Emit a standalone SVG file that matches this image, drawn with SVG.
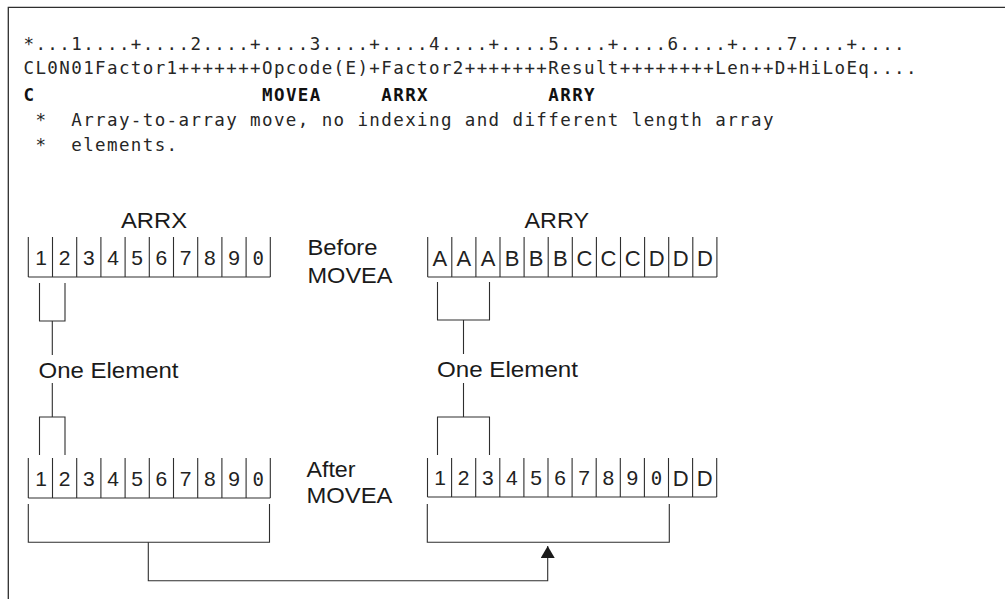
<svg xmlns="http://www.w3.org/2000/svg" width="1005" height="599" viewBox="0 0 1005 599">
<style>
  .code{font-family:"DejaVu Sans Mono","Liberation Mono",monospace;font-size:17.5px;letter-spacing:1.39px;fill:#262626}
  .b{font-weight:bold;fill:#111}
  .lbl{font-family:"Liberation Sans",Arial,sans-serif;font-size:22px;fill:#1a1a1a}
  .dig{font-family:"Liberation Sans",Arial,sans-serif;font-size:21px;fill:#222;text-anchor:middle}
  .zero{font-family:"DejaVu Sans Mono","Liberation Mono",monospace;font-size:19px}
  .let{font-family:"Liberation Sans",Arial,sans-serif;font-size:22px;fill:#222;text-anchor:middle}
  .ln{fill:none;stroke:#2e2e2e;stroke-width:1.1}
  .frame{fill:none;stroke:#2e2e2e;stroke-width:1.3}
</style>
<defs>
  <marker id="ah" markerUnits="userSpaceOnUse" viewBox="0 0 12 14" markerWidth="12" markerHeight="14" refX="12" refY="7" orient="auto">
    <path d="M0,0 L12,7 L0,14 Z" fill="#1a1a1a"/>
  </marker>
</defs>
<rect width="1005" height="599" fill="#ffffff"/>
<path class="frame" d="M8.3,599 V7.3 H1005"/>

<g id="code">
  <text class="code" x="23.5" y="49.5">*...1....+....2....+....3....+....4....+....5....+....6....+....7....+....</text>
  <text class="code" x="23.5" y="74">CL0N01Factor1+++++++Opcode(E)+Factor2+++++++Result++++++++Len++D+HiLoEq....</text>
  <text class="code" x="23.5" y="100.5" xml:space="preserve"><tspan class="b">C</tspan>                   <tspan class="b">MOVEA</tspan>     <tspan class="b">ARRX</tspan>          <tspan class="b">ARRY</tspan></text>
  <text class="code" x="23.5" y="125.5" xml:space="preserve"> *  Array-to-array move, no indexing and different length array</text>
  <text class="code" x="23.5" y="150.5" xml:space="preserve"> *  elements.</text>
</g>

<g id="labels">
  <text class="lbl" x="121" y="228" textLength="66" lengthAdjust="spacingAndGlyphs">ARRX</text>
  <text class="lbl" x="524.5" y="228" textLength="64.5" lengthAdjust="spacingAndGlyphs">ARRY</text>
  <text class="lbl" x="307.5" y="255" textLength="70" lengthAdjust="spacingAndGlyphs">Before</text>
  <text class="lbl" x="307.5" y="283" textLength="85" lengthAdjust="spacingAndGlyphs">MOVEA</text>
  <text class="lbl" x="306.5" y="477" textLength="49" lengthAdjust="spacingAndGlyphs">After</text>
  <text class="lbl" x="306.5" y="503" textLength="86" lengthAdjust="spacingAndGlyphs">MOVEA</text>
</g>

<g id="arrx-before">
  <path class="ln" d="M28.3,237 V277 M52.5,237 V277 M76.7,237 V277 M100.9,237 V277 M125.1,237 V277 M149.3,237 V277 M173.5,237 V277 M197.7,237 V277 M221.9,237 V277 M246.1,237 V277 M270.3,237 V277 M28.3,277 H270.3"/>
  <text class="dig" y="265"><tspan x="41">1</tspan><tspan x="64.6">2</tspan><tspan x="88.8">3</tspan><tspan x="113">4</tspan><tspan x="137.2">5</tspan><tspan x="161.4">6</tspan><tspan x="185.6">7</tspan><tspan x="209.8">8</tspan><tspan x="234">9</tspan><tspan class="zero" x="258.2">0</tspan></text>
</g>

<g id="arry-before">
  <path class="ln" d="M427.7,237 V277 M451.8,237 V277 M475.9,237 V277 M500,237 V277 M524.1,237 V277 M548.2,237 V277 M572.3,237 V277 M596.4,237 V277 M620.5,237 V277 M644.6,237 V277 M668.7,237 V277 M692.8,237 V277 M716.9,237 V277 M427.7,277 H716.9"/>
  <text class="let" y="265.5"><tspan x="439.8">A</tspan><tspan x="463.9">A</tspan><tspan x="488">A</tspan><tspan x="512.1">B</tspan><tspan x="536.2">B</tspan><tspan x="560.3">B</tspan><tspan x="584.4">C</tspan><tspan x="608.5">C</tspan><tspan x="632.6">C</tspan><tspan x="656.7">D</tspan><tspan x="680.8">D</tspan><tspan x="704.9">D</tspan></text>
</g>

<g id="one-element-x">
  <text class="lbl" x="38.5" y="378" textLength="140" lengthAdjust="spacingAndGlyphs">One Element</text>
</g>

<g id="one-element-y">
  <text class="lbl" x="437" y="377" textLength="141" lengthAdjust="spacingAndGlyphs">One Element</text>
</g>

<g id="arrx-after">
  <path class="ln" d="M28.3,458 V498 M52.5,458 V498 M76.7,458 V498 M100.9,458 V498 M125.1,458 V498 M149.3,458 V498 M173.5,458 V498 M197.7,458 V498 M221.9,458 V498 M246.1,458 V498 M270.3,458 V498 M28.3,498 H270.3"/>
  <text class="dig" y="485.5"><tspan x="41">1</tspan><tspan x="64.6">2</tspan><tspan x="88.8">3</tspan><tspan x="113">4</tspan><tspan x="137.2">5</tspan><tspan x="161.4">6</tspan><tspan x="185.6">7</tspan><tspan x="209.8">8</tspan><tspan x="234">9</tspan><tspan class="zero" x="258.2">0</tspan></text>
</g>

<g id="arry-after">
  <path class="ln" d="M427.5,458 V497 M451.6,458 V497 M475.7,458 V497 M499.8,458 V497 M523.9,458 V497 M548,458 V497 M572.1,458 V497 M596.2,458 V497 M620.3,458 V497 M644.4,458 V497 M668.5,458 V497 M692.6,458 V497 M716.7,458 V497 M427.5,497 H716.7"/>
  <text class="dig" y="485"><tspan x="440.2">1</tspan><tspan x="463.7">2</tspan><tspan x="487.8">3</tspan><tspan x="511.9">4</tspan><tspan x="536">5</tspan><tspan x="560.1">6</tspan><tspan x="584.2">7</tspan><tspan x="608.3">8</tspan><tspan x="632.4">9</tspan><tspan class="zero" x="656.5">0</tspan></text>
  <text class="let" y="485.5"><tspan x="680.6">D</tspan><tspan x="704.7">D</tspan></text>
</g>

<g id="connectors">
  <path class="ln" d="M39.5,283 V321 H65 V283 M52.3,321 V355"/>
  <path class="ln" d="M52.3,383 V417 M39.5,455 V417 H65 V455"/>
  <path class="ln" d="M437.5,282 V320 H489.5 V282 M463.5,320 V354"/>
  <path class="ln" d="M463.5,383 V417 M437.5,455 V417 H489.5 V455"/>
  <path class="ln" d="M28.3,504 V542.3 H269.5 V504"/>
  <path class="ln" d="M427.3,504 V542.3 H669.3 V504"/>
  <path class="ln" d="M148.3,542.3 V580.7 H547.7 V546" marker-end="url(#ah)"/>
</g>
</svg>
